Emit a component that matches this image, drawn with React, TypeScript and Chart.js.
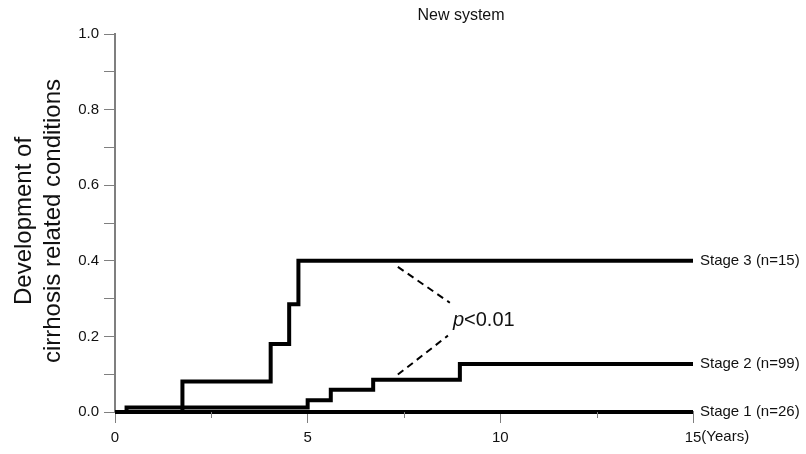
import React, { useEffect, useRef } from "react";
import { Chart, registerables } from "chart.js";

Chart.register(...registerables);

// Data (years, cumulative incidence)
const stage3X = [0, 1.75, 4.04, 4.52, 4.76, 15];
const stage3Y = [0, 0.081, 0.18, 0.285, 0.4, 0.4];
const stage2X = [0, 0.3, 5.0, 5.6, 6.7, 8.95, 15];
const stage2Y = [0, 0.012, 0.031, 0.059, 0.085, 0.127, 0.127];
const stage1X = [0, 15];
const stage1Y = [0, 0];
const stageLabels = ["Stage 3 (n=15)", "Stage 2 (n=99)", "Stage 1 (n=26)"];

// p-value bracket (data coordinates)
const dash1X = [7.34, 8.69];
const dash1Y = [0.384, 0.289];
const dash2X = [7.34, 8.64];
const dash2Y = [0.099, 0.202];
const pTextX = 8.77;
const pTextY = 0.228;

const xMajorTicks = [0, 5, 10, 15];
const xMinorTicks = [2.5, 7.5, 12.5];
const yTickLabels = ["0.0", "0.2", "0.4", "0.6", "0.8", "1.0"];

const titleText = "New system";
const yTitleLines = ["Development of", "cirrhosis related conditions"];
const xUnitText = "(Years)";

const FONT = '"Liberation Sans", Arial, Helvetica, sans-serif';
const AXIS_GRAY = "#7f7f7f";

const toPts = (xs: number[], ys: number[]) => xs.map((x, i) => ({ x, y: ys[i] }));

export default function App() {
  const ref = useRef<HTMLCanvasElement | null>(null);

  useEffect(() => {
    if (!ref.current) return;

    const overlay = {
      id: "overlay",
      afterDatasetsDraw(chart: any) {
        const ctx = chart.ctx;
        const xs = chart.scales.x;
        const ys = chart.scales.y;
        const area = chart.chartArea;
        ctx.save();
        // minor x ticks
        ctx.strokeStyle = AXIS_GRAY;
        ctx.lineWidth = 1;
        xMinorTicks.forEach((v) => {
          const px = Math.round(xs.getPixelForValue(v)) + 0.5;
          ctx.beginPath();
          ctx.moveTo(px, area.bottom);
          ctx.lineTo(px, area.bottom + 6);
          ctx.stroke();
        });
        // stage labels
        ctx.fillStyle = "#111";
        ctx.font = `15px ${FONT}`;
        ctx.textAlign = "left";
        ctx.textBaseline = "middle";
        const lastY = [stage3Y[stage3Y.length - 1], stage2Y[stage2Y.length - 1], stage1Y[stage1Y.length - 1]];
        const endX = xs.getPixelForValue(15) + 7;
        stageLabels.forEach((t, i) => {
          ctx.fillText(t, endX, ys.getPixelForValue(lastY[i]));
        });
        // (Years)
        ctx.font = `15px ${FONT}`;
        const w15 = ctx.measureText("15").width;
        ctx.textBaseline = "top";
        ctx.fillText(xUnitText, xs.getPixelForValue(15) + w15 / 2, area.bottom + 11 + 6);
        // p<0.01
        ctx.textBaseline = "alphabetic";
        const px = xs.getPixelForValue(pTextX);
        const py = ys.getPixelForValue(pTextY);
        ctx.font = `italic 20px ${FONT}`;
        ctx.fillText("p", px, py);
        const pw = ctx.measureText("p").width;
        ctx.font = `20px ${FONT}`;
        ctx.fillText("<0.01", px + pw, py);
        // title
        ctx.font = `16px ${FONT}`;
        ctx.textAlign = "center";
        ctx.fillText(titleText, 461, 20);
        // y title
        ctx.font = `24px ${FONT}`;
        ctx.textBaseline = "middle";
        const cy = 221;
        [24, 53].forEach((x, i) => {
          ctx.save();
          ctx.translate(x, cy);
          ctx.rotate(-Math.PI / 2);
          ctx.fillText(yTitleLines[i], 0, 0);
          ctx.restore();
        });
        ctx.restore();
      },
    };

    const stepDs = (xs: number[], ys: number[]) => ({
      data: toPts(xs, ys),
      borderColor: "#000",
      borderWidth: 4,
      pointRadius: 0,
      stepped: "before" as const,
      fill: false,
      clip: false as any,
      borderCapStyle: "butt" as const,
      borderJoinStyle: "miter" as const,
    });
    const dashDs = (xs: number[], ys: number[]) => ({
      data: toPts(xs, ys),
      borderColor: "#000",
      borderWidth: 2,
      borderDash: [7, 5],
      pointRadius: 0,
      fill: false,
      clip: false as any,
    });

    const chart = new Chart(ref.current, {
      type: "line",
      data: {
        datasets: [
          stepDs(stage3X, stage3Y),
          stepDs(stage2X, stage2Y),
          stepDs(stage1X, stage1Y),
          dashDs(dash1X, dash1Y),
          dashDs(dash2X, dash2Y),
        ] as any,
      },
      options: {
        responsive: false,
        animation: false,
        devicePixelRatio: 1,
        layout: { padding: { left: 0, right: 113, top: 34, bottom: 0 } },
        plugins: { legend: { display: false }, tooltip: { enabled: false }, title: { display: false } },
        scales: {
          x: {
            type: "linear",
            min: 0,
            max: 15,
            afterFit: (s: any) => {
              s.height = 42;
            },
            afterBuildTicks: (s: any) => {
              s.ticks = [...xMajorTicks, ...xMinorTicks].sort((a, b) => a - b).map((v) => ({ value: v }));
            },
            ticks: {
              autoSkip: false,
              maxRotation: 0,
              padding: 6,
              color: "#111",
              font: { size: 15, family: FONT },
              callback: (v: any) => (xMajorTicks.includes(Number(v)) ? String(v) : ""),
            },
            grid: {
              drawOnChartArea: false,
              drawTicks: true,
              tickLength: 11,
              color: (c: any) => (c.tick && xMajorTicks.includes(c.tick.value) ? AXIS_GRAY : "rgba(0,0,0,0)"),
              lineWidth: 1,
            },
            border: { display: true, color: AXIS_GRAY, width: 2 },
          },
          y: {
            min: 0,
            max: 1,
            afterFit: (s: any) => {
              s.width = 115;
            },
            ticks: {
              stepSize: 0.1,
              autoSkip: false,
              padding: 5,
              color: "#111",
              font: { size: 15, family: FONT },
              callback: (v: any) => {
                const k = Math.round(Number(v) * 10);
                return k % 2 === 0 ? yTickLabels[k / 2] : "";
              },
            },
            grid: {
              drawOnChartArea: false,
              drawTicks: true,
              tickLength: 11,
              color: AXIS_GRAY,
              lineWidth: 1,
            },
            border: { display: true, color: AXIS_GRAY, width: 2 },
          },
        },
      },
      plugins: [overlay],
    });
    return () => chart.destroy();
  }, []);

  return (
    <div style={{ position: "absolute", left: 0, top: 0, width: 806, height: 454, background: "#fff" }}>
      <canvas ref={ref} width={806} height={454} style={{ display: "block" }} />
    </div>
  );
}
